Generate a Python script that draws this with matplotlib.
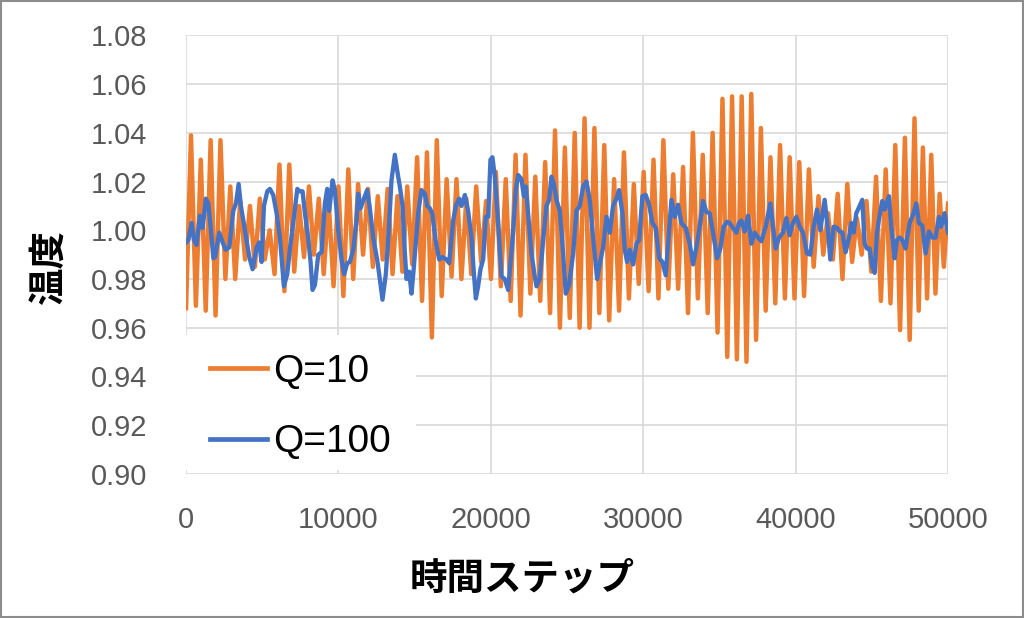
import numpy as np
import matplotlib
matplotlib.use("Agg")
import matplotlib.pyplot as plt
from matplotlib.patches import Rectangle

# ---------------- data ----------------
# Q=10: successive troughs/peaks of the oscillation
orange_extrema = [
    0.968, 1.039, 0.969, 1.029, 0.967, 1.037, 0.965, 1.037, 0.980, 1.018, 0.980,
    1.012, 0.988, 1.010, 0.985, 1.013, 0.988, 1.000, 0.982, 1.027, 0.975, 1.027,
    0.983, 1.010, 0.989, 1.018, 0.990, 1.013, 0.982, 1.012, 0.977, 1.018, 0.973,
    1.025, 0.980, 1.019, 0.990, 1.017, 0.985, 1.014, 0.988, 1.017, 0.982, 1.014,
    0.983, 1.018, 0.986, 1.030, 0.971, 1.032, 0.956, 1.037, 0.973, 1.021, 0.981,
    1.021, 0.980, 1.013, 0.982, 1.018, 0.987, 1.012, 0.980, 1.024, 0.977, 1.021,
    0.971, 1.031, 0.965, 1.031, 0.974, 1.022, 0.971, 1.028, 0.966, 1.041, 0.960,
    1.034, 0.964, 1.040, 0.960, 1.046, 0.960, 1.042, 0.966, 1.035, 0.963, 1.021,
    0.967,
    1.032, 0.972, 1.019, 0.978, 1.024, 0.975, 1.029, 0.972, 1.037, 0.976, 1.023,
    0.976, 1.026, 0.966, 1.040, 0.972, 1.031, 0.966, 1.040, 0.958, 1.054, 0.948,
    1.055, 0.947, 1.055, 0.946, 1.056, 0.955, 1.042, 0.967, 1.030, 0.970, 1.035,
    0.972, 1.030, 0.972, 1.028, 0.973, 1.025, 0.985, 1.014, 0.990, 1.007, 0.988,
    1.015,
    0.980, 1.019, 0.987, 1.005, 0.990, 1.012, 0.983, 1.022, 0.971, 1.025, 0.970,
    1.035, 0.959, 1.038, 0.955, 1.046, 0.967, 1.034, 0.972, 1.031, 0.974, 1.015,
    0.985, 1.011,
]
# time steps of a few identified extrema (index in list -> time step)
orange_anchor_idx = [0, 50, 109, 149, 157]
orange_anchor_t = [0, 16130, 35200, 47800, 50000]

# Q=100 series (time step, temperature)
blue_t = [
    0, 150, 365, 520, 690, 910, 1090, 1300, 1460, 1610, 1790, 1895, 2180, 2400,
    2595, 2835, 3100, 3270, 3450, 3600, 3865, 4150, 4365, 4630, 4800, 4955, 5110,
    5330, 5500, 5720, 5940, 6160, 6420, 6640, 6815, 7035, 7300, 7470, 7645, 7800,
    8015, 8170, 8300, 8455, 8675, 8890, 9110, 9265, 9395, 9615, 9765, 9985, 10205,
    10380, 10575, 10750, 10970, 11185, 11295, 11450, 11670, 11885, 12060, 12280,
    12540, 12715, 12890, 13110, 13330, 13480, 13700, 13920, 14030, 14205, 14360,
    14465, 14640, 14795, 14950, 15230, 15450, 15670, 15825, 16000, 16150, 16370,
    16610, 16830, 17090, 17265, 17530, 17700, 17920, 18075, 18295, 18510, 18730,
    18885, 19015, 19165, 19320, 19495, 19670, 19825, 19975, 20105, 20260, 20480,
    20700, 20915, 21135, 21420, 21640, 21790, 22010, 22165, 22295, 22445, 22665,
    22885, 22995, 23210, 23430, 23650, 23825, 23980, 24130, 24305, 24525, 24745,
    24915, 25135, 25400, 25615, 25835, 26055, 26275, 26490, 26710, 26975, 27145,
    27365, 27585, 27805, 28020, 28240, 28415, 28635, 28790, 28940, 29115, 29335,
    29555, 29730, 29945, 30165, 30385, 30600, 30820, 31040, 31260, 31475, 31695,
    31850, 32065, 32285, 32505, 32790, 33050, 33270, 33490, 33705, 33925, 34145,
    34360, 34580, 34845, 35060, 35280, 35500, 35675, 35895, 36110, 36285, 36440,
    36660, 36875, 37095, 37315, 37530, 37750, 38035, 38340, 38515, 38690, 38910,
    39170, 39390, 39610, 39825, 40045, 40265, 40485, 40745, 40965, 41185, 41400,
    41620, 41905, 42125, 42275, 42495, 42715, 42890, 43065, 43280, 43500, 43655,
    43805, 43980, 44200, 44375, 44530, 44680, 44855, 45030, 45185, 45335, 45510,
    45685, 45840, 46125, 46275, 46495, 46650, 46825, 47000, 47215, 47480, 47740,
    47915, 48090, 48310, 48530, 48750, 48965, 49185, 49405, 49555, 49775, 50000,
]
blue_v = [
    0.995, 0.996, 1.003, 0.996, 0.994, 1.006, 1.001, 1.013, 1.011, 1.0015, 0.9885,
    0.989, 0.999, 0.995, 0.992, 0.993, 1.008, 1.011, 1.019, 1.010, 1.000, 0.989,
    0.984, 0.993, 0.995, 0.987, 1.010, 1.016, 1.017, 1.0145, 1.007, 0.997, 0.977,
    0.982, 0.9925, 1.003, 1.017, 1.016, 1.016, 1.007, 0.997, 0.987, 0.9755, 0.9775,
    0.990, 0.991, 1.011, 1.017, 1.008, 1.0205, 1.0165, 1.000, 0.988, 0.982, 0.9865,
    0.987, 0.992, 1.004, 1.015, 1.009, 1.013, 1.0165, 1.009, 0.997, 0.988, 0.980,
    0.9715, 0.982, 1.003, 1.0205, 1.031, 1.022, 1.018, 1.010, 0.9905, 0.980, 0.983,
    0.974, 0.985, 1.007, 1.0165, 1.015, 1.010, 1.009, 1.007, 0.996, 0.988, 0.989,
    0.988, 0.9865, 1.004, 1.010, 1.013, 1.010, 1.0145, 1.008, 0.997, 0.9825, 0.972,
    0.977, 0.984, 0.988, 1.0055, 1.0055, 1.029, 1.030, 1.022, 1.003, 0.981, 0.980,
    0.9755, 0.996, 1.0165, 1.0227, 1.021, 1.014, 1.018, 1.007, 0.9905, 0.981, 0.977,
    0.980, 0.996, 1.010, 1.0125, 1.022, 1.019, 1.0125, 1.008, 0.9905, 0.974, 0.9775,
    0.9905, 1.008, 1.010, 1.018, 1.020, 1.0125, 0.997, 0.980, 0.986, 0.993, 1.0055,
    0.999, 1.010, 1.013, 1.0165, 1.007, 0.992, 0.987, 0.992, 0.986, 0.9945, 0.996,
    1.014, 1.0145, 1.0105, 1.003, 1.001, 0.9885, 0.987, 0.9815, 1.000, 1.0125,
    1.0055, 1.0105, 1.003, 1.001, 0.9945, 0.986, 0.993, 1.0015, 1.012, 1.0075,
    1.007, 0.999, 0.9885, 0.9925, 1.0015, 1.0035, 1.003, 1.001, 0.999, 1.003,
    1.004, 0.9995, 1.006, 0.9945, 0.999, 0.997, 0.9955, 1.0015, 1.011, 1.0015,
    0.9925, 0.997, 0.999, 1.005, 0.998, 1.003, 1.0055, 1.0015, 0.999, 0.9905,
    0.990, 1.0015, 1.0085, 1.000, 1.0125, 1.000, 0.988, 1.0015, 1.001, 0.9995,
    0.999, 0.991, 0.997, 1.003, 0.999, 1.007, 1.010, 1.0125, 0.9945, 0.9925,
    0.9925, 0.985, 0.9825, 0.999, 1.006, 1.012, 1.0085, 1.014, 1.0015, 0.9885,
    0.996, 0.997, 0.996, 0.9925, 1.003, 1.007, 1.011, 1.003, 1.002, 0.9905,
    0.9995, 0.997, 0.997, 1.0055, 1.0015, 1.007, 0.999,
]

series_labels = ["Q=10", "Q=100"]
x_label = "時間ステップ"
y_label = "温度"
x_ticks = [0, 10000, 20000, 30000, 40000, 50000]
y_ticks = [0.90, 0.92, 0.94, 0.96, 0.98, 1.00, 1.02, 1.04, 1.06, 1.08]

# ---------------- plot ----------------
ORANGE = "#ED7D31"
BLUE = "#4472C4"
GRID = "#D9D9D9"
TXT = "#595959"

orange_t = np.interp(np.arange(len(orange_extrema)), orange_anchor_idx, orange_anchor_t)

fig = plt.figure(figsize=(10.24, 6.18), dpi=100)
ax = fig.add_axes([0.1817, 0.2333, 0.9258 - 0.1817, 0.9426 - 0.2333])

ax.plot(orange_t, orange_extrema, color=ORANGE, lw=3.2, label=series_labels[0],
        solid_joinstyle="round", zorder=3)
ax.plot(blue_t, blue_v, color=BLUE, lw=3.1, label=series_labels[1],
        solid_joinstyle="round", zorder=4)

ax.set_xlim(0, 50000)
ax.set_ylim(0.90, 1.08)
ax.set_xticks(x_ticks)
ax.set_yticks(y_ticks)
ax.set_xticklabels([str(v) for v in x_ticks])
ax.set_yticklabels([f"{v:.2f}" for v in y_ticks])
for s in ax.spines.values():
    s.set_visible(False)
ax.grid(True, color=GRID, lw=1.2, zorder=0)
ax.set_axisbelow(True)
ax.tick_params(axis="both", length=0, labelsize=21, labelcolor=TXT)
ax.tick_params(axis="y", pad=28)
ax.tick_params(axis="x", pad=23)
for lab in ax.get_xticklabels() + ax.get_yticklabels():
    lab.set_fontfamily("Liberation Sans")

# white legend area hiding the gridlines behind the legend
ax.add_patch(Rectangle((0.0, 0.009), 0.302, 0.308, transform=ax.transAxes,
                       facecolor="white", edgecolor="none", zorder=2))

leg = ax.legend(loc="lower left", bbox_to_anchor=(0.0137, 0.0), borderaxespad=0.0,
                frameon=False, prop={"family": "Liberation Sans", "size": 28},
                handlelength=1.46, handletextpad=0.15, labelspacing=0.88,
                borderpad=0.35)
for h in leg.get_lines():
    h.set_linewidth(3.4)
leg.set_zorder(5)

fig.text(522 / 1024, 1 - 578 / 618, x_label, ha="center", va="center",
         fontsize=27, fontweight="bold", family=["Noto Sans CJK JP", "DejaVu Sans"])
fig.text(49 / 1024, 1 - 267 / 618, y_label, ha="center", va="center", rotation=90,
         fontsize=27, fontweight="bold", family=["Noto Sans CJK JP", "DejaVu Sans"])

fig.patches.append(Rectangle((0.001, 0.0015), 0.998, 0.997, transform=fig.transFigure,
                             fill=False, edgecolor="#8C8C8C", lw=1.5))

fig.savefig("out.png", dpi=100)
